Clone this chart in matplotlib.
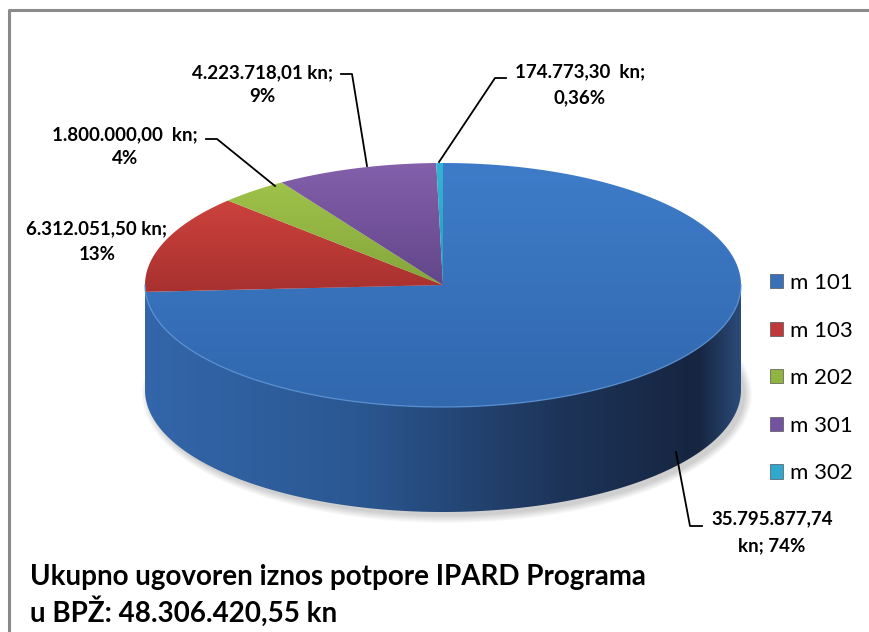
import numpy as np
import matplotlib
matplotlib.use("Agg")
import matplotlib.pyplot as plt
from matplotlib.patches import Polygon, Ellipse, Patch
from matplotlib.colors import LinearSegmentedColormap

# data
labels = ["m 101", "m 103", "m 202", "m 301", "m 302"]
values = [35795877.74, 6312051.50, 1800000.00, 4223718.01, 174773.30]
amount_text = ["35.795.877,74", "6.312.051,50", "1.800.000,00 ", "4.223.718,01", "174.773,30 "]
pct_text = ["74%", "13%", "4%", "9%", "0,36%"]
title_lines = ["Ukupno ugovoren iznos potpore IPARD Programa", "u BPŽ: 48.306.420,55 kn"]

top_colors = [("#3e7cc9", "#3168ae"), ("#cc423d", "#a8312f"), ("#9fc24a", "#84a63b"),
              ("#8460ab", "#62468a"), ("#33b4d6", "#2a9bbb")]
legend_colors = ["#3a70b8", "#c0393a", "#8fb43f", "#7353a0", "#2ea8cc"]

plt.rcParams['font.family'] = ['Lato', 'DejaVu Sans']

fig = plt.figure(figsize=(8.69, 6.32), dpi=100)
ax = fig.add_axes([0, 0, 1, 1])
ax.set_xlim(0, 869)
ax.set_ylim(632, 0)
ax.axis("off")

# frame (left + top only)
ax.plot([9, 9, 869], [632, 9.5, 9.5], color="#8a8a8a", lw=2.2, solid_capstyle="butt")

cx, cy = 443, 285
rx, ry = 298, 122
depth = 105


def pt(theta):
    t = np.radians(theta)
    return cx + rx * np.sin(t), cy - ry * np.cos(t)


def grad_fill(poly, c1, c2, horizontal=False, stops=None):
    if stops is None:
        cmap = LinearSegmentedColormap.from_list("g", [c1, c2])
    else:
        cmap = LinearSegmentedColormap.from_list("g", stops)
    g = np.linspace(0, 1, 256)
    img = g[None, :] if horizontal else g[:, None]
    xs, ys = poly[:, 0], poly[:, 1]
    im = ax.imshow(img, cmap=cmap, extent=[xs.min(), xs.max(), ys.max(), ys.min()],
                   aspect="auto", interpolation="bilinear", zorder=2)
    p = Polygon(poly, closed=True, facecolor="none", edgecolor="none")
    ax.add_patch(p)
    im.set_clip_path(p)


# soft shadow below the disc
for k in range(8):
    ax.add_patch(Ellipse((cx + 4, cy + depth + 4), 2 * rx + 14 - 2 * k, 2 * ry + 14 - 2 * k,
                         facecolor="#000000", alpha=0.025, edgecolor="none", zorder=1))

# side wall (front half)
th = np.linspace(90, 270, 200)
top_edge = np.array([pt(t) for t in th])
bot_edge = top_edge[::-1] + np.array([0, depth])
side = np.vstack([top_edge, bot_edge])
grad_fill(side, None, None, horizontal=True,
          stops=[(0, "#3366aa"), (0.35, "#2b5892"), (0.7, "#1d3459"), (0.93, "#162540"), (1, "#2b4a78")])

# top wedges
fr = np.array(values) / np.sum(values)
bounds = np.concatenate([[0], np.cumsum(fr) * 360])
for i in range(len(values)):
    a = np.linspace(bounds[i], bounds[i + 1], max(int((bounds[i + 1] - bounds[i]) * 2), 4))
    poly = np.vstack([[cx, cy], [pt(t) for t in a]])
    grad_fill(poly, top_colors[i][0], top_colors[i][1])

# thin highlight at the front rim
ax.plot(top_edge[:, 0], top_edge[:, 1], color="#5b93d6", lw=1.0, alpha=0.8, zorder=3)

# leader lines
lk = dict(color="black", lw=1.3, zorder=4)
ax.plot([439, 495, 506], [162, 78, 78], **lk)
ax.plot([367, 352, 341], [166, 74, 74], **lk)
ax.plot([275, 217, 206], [186, 139, 139], **lk)
ax.plot([676, 690, 702], [452, 526, 526], **lk)

# data labels
tk = dict(fontsize=13.5, fontweight="bold", ha="center", va="center", zorder=5)
pos = [(772, 519, 546), (97, 229, 254), (125, 135, 159), (262, 73, 97), (580, 72, 98)]
for i in range(len(values)):
    x, y1, y2 = pos[i]
    if i == 0:
        ax.text(x, y1, amount_text[i], **tk)
        ax.text(x, y2, "kn; " + pct_text[i], **tk)
    else:
        ax.text(x, y1, amount_text[i] + " kn;", **tk)
        ax.text(x, y2, pct_text[i], **tk)

# legend
handles = [Patch(facecolor=legend_colors[i], edgecolor="#555555", linewidth=0.5) for i in range(len(labels))]
ax.legend(handles, labels, loc="upper left", bbox_to_anchor=(759 / 869, 1 - 262 / 632),
          frameon=False, fontsize=16, handlelength=0.6, handleheight=0.6,
          handletextpad=0.3, labelspacing=1.24, borderpad=0)

# total text
ax.text(30, 577, title_lines[0], fontsize=20, fontweight="bold", va="center", ha="left")
ax.text(30, 612, title_lines[1], fontsize=20, fontweight="bold", va="center", ha="left")

fig.savefig("out.png", dpi=100)
